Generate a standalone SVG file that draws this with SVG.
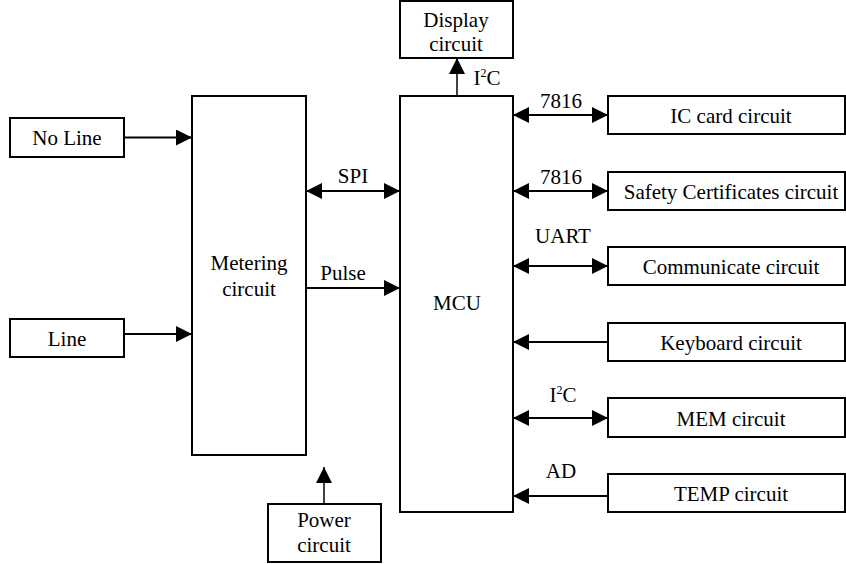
<svg xmlns="http://www.w3.org/2000/svg" width="846" height="564" viewBox="0 0 846 564">
<style>
.box{fill:#fff;stroke:#000;stroke-width:2}
.t{font-family:"Liberation Serif","Times New Roman",serif;font-size:21px;fill:#000;text-anchor:middle}
.c{stroke:#000;stroke-width:2;fill:none}
.thin{stroke:#000;stroke-width:1.5;fill:none}
</style>
<defs>
<marker id="ah" markerUnits="userSpaceOnUse" markerWidth="16" markerHeight="16" viewBox="0 0 16 16" refX="16" refY="8" orient="auto-start-reverse">
<path d="M0,0 L16,8 L0,16 z" fill="#000"/>
</marker>
</defs>
<rect width="846" height="564" fill="#fff"/>
<g id="noline"><rect class="box" x="10" y="118" width="114" height="39"/><text class="t" x="67" y="145">No Line</text></g>
<g id="line"><rect class="box" x="10" y="319" width="114" height="38"/><text class="t" x="67" y="346">Line</text></g>
<g id="metering"><rect class="box" x="192" y="96" width="114" height="359"/><text class="t" x="249" y="270">Metering</text><text class="t" x="249" y="296">circuit</text></g>
<g id="power"><rect class="box" x="268" y="504" width="113" height="58"/><text class="t" x="324" y="527">Power</text><text class="t" x="324" y="552">circuit</text></g>
<g id="mcu"><rect class="box" x="400" y="96" width="113" height="416"/><text class="t" x="457" y="310">MCU</text></g>
<g id="display"><rect class="box" x="400" y="1" width="113" height="57"/><text class="t" x="456" y="27">Display</text><text class="t" x="456" y="51">circuit</text></g>
<g id="iccard"><rect class="box" x="608" y="96" width="237" height="38"/><text class="t" x="731" y="123">IC card circuit</text></g>
<g id="safety"><rect class="box" x="608" y="172" width="237" height="38"/><text class="t" x="731" y="199">Safety Certificates circuit</text></g>
<g id="comm"><rect class="box" x="608" y="247" width="237" height="38"/><text class="t" x="731" y="274">Communicate circuit</text></g>
<g id="keyboard"><rect class="box" x="608" y="323" width="237" height="38"/><text class="t" x="731" y="350">Keyboard circuit</text></g>
<g id="mem"><rect class="box" x="608" y="398" width="237" height="39"/><text class="t" x="731" y="426">MEM circuit</text></g>
<g id="temp"><rect class="box" x="608" y="474" width="237" height="38"/><text class="t" x="731" y="501">TEMP circuit</text></g>
<g id="connectors">
<line class="c" x1="124" y1="137.5" x2="192" y2="137.5" marker-end="url(#ah)"/>
<line class="c" x1="124" y1="334" x2="192" y2="334" marker-end="url(#ah)"/>
<line class="c" x1="306" y1="191" x2="400" y2="191" marker-start="url(#ah)" marker-end="url(#ah)"/>
<line class="c" x1="306" y1="288" x2="400" y2="288" marker-end="url(#ah)"/>
<line class="thin" x1="324" y1="504" x2="324" y2="467" marker-end="url(#ah)"/>
<line class="thin" x1="457" y1="96" x2="457" y2="58" marker-end="url(#ah)"/>
<line class="c" x1="513" y1="115" x2="608" y2="115" marker-start="url(#ah)" marker-end="url(#ah)"/>
<line class="c" x1="513" y1="191" x2="608" y2="191" marker-start="url(#ah)" marker-end="url(#ah)"/>
<line class="c" x1="513" y1="266" x2="608" y2="266" marker-start="url(#ah)" marker-end="url(#ah)"/>
<line class="c" x1="608" y1="342" x2="513" y2="342" marker-end="url(#ah)"/>
<line class="c" x1="513" y1="418" x2="608" y2="418" marker-start="url(#ah)" marker-end="url(#ah)"/>
<line class="c" x1="608" y1="496" x2="513" y2="496" marker-end="url(#ah)"/>
</g>
<g id="labels">
<text class="t" x="353" y="183">SPI</text>
<text class="t" x="343" y="280">Pulse</text>
<text class="t" x="487" y="85">I<tspan font-size="12" dy="-8">2</tspan><tspan dy="8">C</tspan></text>
<text class="t" x="561" y="108">7816</text>
<text class="t" x="561" y="184">7816</text>
<text class="t" x="563" y="243">UART</text>
<text class="t" x="563" y="402">I<tspan font-size="12" dy="-8">2</tspan><tspan dy="8">C</tspan></text>
<text class="t" x="561" y="478">AD</text>
</g>
</svg>
